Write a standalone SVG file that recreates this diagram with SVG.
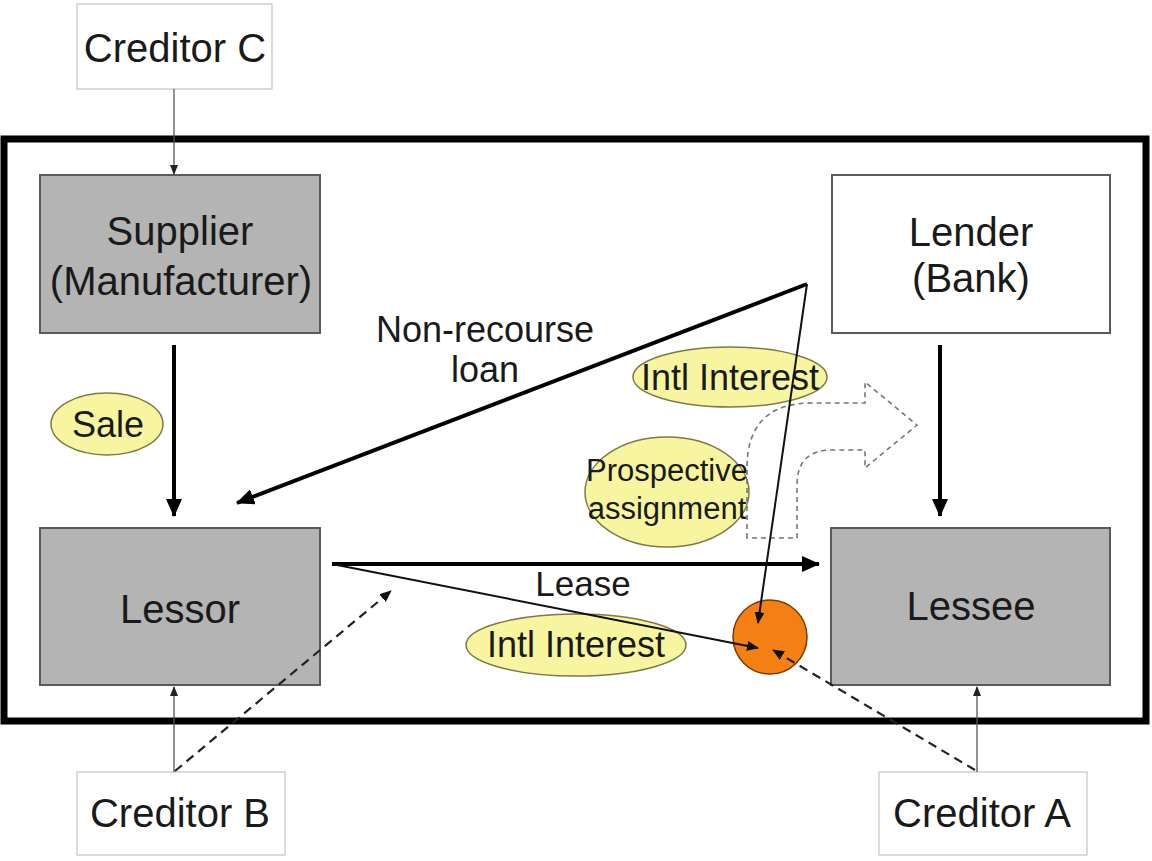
<svg xmlns="http://www.w3.org/2000/svg" width="1152" height="861" viewBox="0 0 1152 861">
<style>
text{font-family:"Liberation Sans",Arial,sans-serif;fill:#1a1a1a;text-anchor:middle}
.gray{fill:#b4b4b4;stroke:#5a5a5a;stroke-width:2}
.white{fill:#fff;stroke:#5a5a5a;stroke-width:2}
.cred{fill:#fff;stroke:#c4c4c4;stroke-width:1.2}
.oval{fill:#f8f5a0;stroke:#7d7a45;stroke-width:1.5}
.thick{stroke:#000;stroke-width:4;fill:none}
.thin{stroke:#111;stroke-width:2;fill:none}
.hair{stroke:#555;stroke-width:1.3;fill:none}
.dash{stroke:#222;stroke-width:2.2;stroke-dasharray:9 6;fill:none}
.bent{stroke:#777;stroke-width:1.6;stroke-dasharray:5 4;fill:none}
</style>
<defs>
<marker id="ah" markerUnits="userSpaceOnUse" markerWidth="18" markerHeight="16" refX="17" refY="8" orient="auto"><path d="M0,0 L18,8 L0,16 z" fill="#000"/></marker>
<marker id="as" markerUnits="userSpaceOnUse" markerWidth="12" markerHeight="10" refX="11" refY="5" orient="auto"><path d="M0,0 L12,5 L0,10 z" fill="#111"/></marker>
<marker id="ax" markerUnits="userSpaceOnUse" markerWidth="10" markerHeight="8" refX="9" refY="4" orient="auto"><path d="M0,0 L10,4 L0,8 z" fill="#222"/></marker>
</defs>
<rect x="0" y="0" width="1152" height="861" fill="#fff"/>
<rect id="frame" x="4" y="139" width="1142" height="582" fill="none" stroke="#000" stroke-width="7"/>

<g id="creditor-c"><rect class="cred" x="77" y="4" width="195" height="85"/><text x="175" y="62" font-size="40">Creditor C</text></g>
<g id="supplier"><rect class="gray" x="40" y="175" width="280" height="158"/><text x="180" y="245" font-size="40">Supplier</text><text x="181" y="295" font-size="40">(Manufacturer)</text></g>
<g id="lender"><rect class="white" x="832" y="175" width="278" height="158"/><text x="971" y="246" font-size="40">Lender</text><text x="971" y="292" font-size="40">(Bank)</text></g>
<g id="lessor"><rect class="gray" x="40" y="528" width="280" height="157"/><text x="180" y="623" font-size="40">Lessor</text></g>
<g id="lessee"><rect class="gray" x="831" y="528" width="279" height="157"/><text x="971" y="620" font-size="40">Lessee</text></g>
<g id="creditor-b"><rect class="cred" x="77" y="772" width="208" height="83"/><text x="180" y="827" font-size="40">Creditor B</text></g>
<g id="creditor-a"><rect class="cred" x="879" y="772" width="208" height="83"/><text x="982" y="827" font-size="40">Creditor A</text></g>

<g id="sale"><ellipse class="oval" cx="107" cy="424" rx="56" ry="31"/><text x="108" y="437" font-size="36">Sale</text></g>
<g id="intl-interest-1"><ellipse class="oval" cx="730" cy="377" rx="97" ry="30"/><text x="730" y="390" font-size="36">Intl Interest</text></g>
<g id="prospective"><ellipse class="oval" cx="667" cy="492" rx="82" ry="55"/><text x="667" y="481" font-size="31">Prospective</text><text x="667" y="519" font-size="31">assignment</text></g>
<g id="intl-interest-2"><ellipse class="oval" cx="576" cy="645" rx="110" ry="31"/><text x="576" y="657" font-size="36">Intl Interest</text></g>
<g id="interest-node"><circle cx="770" cy="637" r="37" fill="#f47f12" stroke="#7a3a00" stroke-width="1.5"/></g>
<g id="bent-arrow"><path class="bent" d="M747,538 L747,468 Q747,403 812,403 L865,403 L865,382 L917,425 L865,468 L865,450 L832,450 Q797,450 797,485 L797,538 Z"/></g>

<g id="connectors">
<line class="hair" x1="174" y1="89" x2="174" y2="174" marker-end="url(#ax)"/>
<line class="hair" x1="174" y1="772" x2="174" y2="687" marker-end="url(#ax)"/>
<line class="hair" x1="977" y1="772" x2="977" y2="687" marker-end="url(#ax)"/>
<line class="dash" x1="175" y1="771" x2="391" y2="591" marker-end="url(#as)"/>
<line class="dash" x1="975" y1="770" x2="773" y2="650" marker-end="url(#as)"/>
<line class="thick" x1="174" y1="345" x2="174" y2="516" marker-end="url(#ah)"/>
<line class="thick" x1="940" y1="345" x2="940" y2="516" marker-end="url(#ah)"/>
<line class="thick" x1="332" y1="564" x2="819" y2="564" marker-end="url(#ah)"/>
<polyline class="thick" points="807,284 237,503" marker-end="url(#ah)"/>
<line class="thin" x1="807" y1="284" x2="758" y2="623" marker-end="url(#as)"/>
<line class="thin" x1="332" y1="564" x2="758" y2="648" marker-end="url(#as)"/>
<text x="485" y="342" font-size="36">Non-recourse</text>
<text x="485" y="382" font-size="36">loan</text>
<text x="583" y="596" font-size="35">Lease</text>
</g>
</svg>
